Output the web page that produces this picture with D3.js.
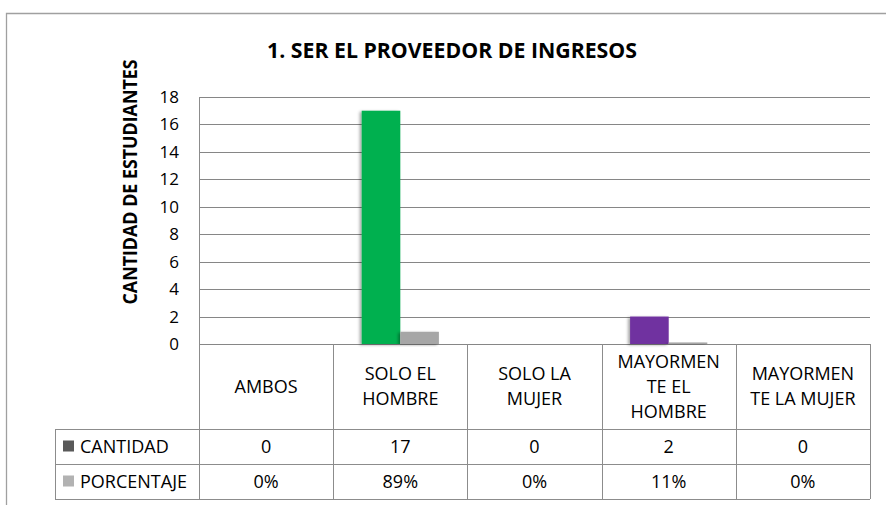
<!DOCTYPE html>
<html>
<head>
<meta charset="utf-8">
<script src="https://cdn.jsdelivr.net/npm/d3@7"></script>
<style>
  body { margin: 0; background: #fff; }
  svg { display: block; font-family: "Open Sans", "Noto Sans", sans-serif; }
</style>
</head>
<body>
<div id="chart"></div>
<script>
// data
const categories = ['AMBOS', 'SOLO EL HOMBRE', 'SOLO LA MUJER', 'MAYORMENTE EL HOMBRE', 'MAYORMENTE LA MUJER'];
const categoryLines = [
    ['AMBOS'],
    ['SOLO EL', 'HOMBRE'],
    ['SOLO LA', 'MUJER'],
    ['MAYORMEN', 'TE EL', 'HOMBRE'],
    ['MAYORMEN', 'TE LA MUJER']
];
const series = ['CANTIDAD', 'PORCENTAJE'];
const cantidad = [0, 17, 0, 2, 0];
const porcentaje = [0, 0.89, 0, 0.11, 0];
const porcentajeLabels = ['0%', '89%', '0%', '11%', '0%'];
const yTicks = [0, 2, 4, 6, 8, 10, 12, 14, 16, 18];

const cantidadColors = ['#4F81BD', '#00B050', '#C0504D', '#7030A0', '#F79646'];
const porcentajeColor = '#A6A6A6';
const legendColors = ['#595959', '#B2B2B2'];

const width = 886, height = 505;
const plot = { left: 199, right: 870, top: 97, bottom: 344 };
const rowH = 35;
const headerBottom = 429;

const svg = d3.select('#chart').append('svg')
    .attr('width', width)
    .attr('height', height);

const defs = svg.append('defs');
const shadow = defs.append('filter').attr('id', 'shadow')
    .attr('x', '-30%').attr('y', '-10%').attr('width', '160%').attr('height', '130%');
shadow.append('feDropShadow')
    .attr('dx', -2).attr('dy', 1).attr('stdDeviation', 1.6)
    .attr('flood-color', '#000').attr('flood-opacity', 0.35);

// outer frame
svg.append('path')
    .attr('d', `M6.5,${height} V13.5 H${width}`)
    .attr('fill', 'none')
    .attr('stroke', '#A0A0A0')
    .attr('stroke-width', 1.3);

// title
svg.append('text')
    .attr('x', 452).attr('y', 58)
    .attr('text-anchor', 'middle')
    .attr('font-size', 21)
    .attr('font-weight', 'bold')
    .attr('textLength', 370)
    .attr('lengthAdjust', 'spacingAndGlyphs')
    .attr('fill', '#000')
    .text('1. SER EL PROVEEDOR DE INGRESOS');

// y title
svg.append('text')
    .attr('transform', 'translate(137,182) rotate(-90)')
    .attr('text-anchor', 'middle')
    .attr('font-size', 19)
    .attr('font-weight', 'bold')
    .attr('textLength', 245)
    .attr('lengthAdjust', 'spacingAndGlyphs')
    .text('CANTIDAD DE ESTUDIANTES');

const x = d3.scaleBand()
    .domain(categories)
    .range([plot.left, plot.right])
    .padding(0);

const x1 = d3.scaleBand()
    .domain(series)
    .range([28.5, x.bandwidth() - 28.5])
    .padding(0);

const y = d3.scaleLinear()
    .domain([0, 18])
    .range([plot.bottom, plot.top]);

// gridlines
svg.append('g')
    .selectAll('line')
    .data(yTicks)
    .enter()
    .append('line')
    .attr('x1', plot.left).attr('x2', plot.right)
    .attr('y1', d => Math.round(y(d)) + 0.5)
    .attr('y2', d => Math.round(y(d)) + 0.5)
    .attr('stroke', '#868686')
    .attr('stroke-width', 1);

// y axis labels
const yAxis = svg.append('g')
    .attr('transform', `translate(${plot.left - 20},0)`)
    .call(d3.axisLeft(y).tickValues(yTicks).tickSize(0).tickPadding(0));
yAxis.select('.domain').remove();
yAxis.attr('font-family', null).attr('font-size', null);
yAxis.selectAll('text')
    .attr('font-size', 17)
    .attr('fill', '#000');

// bars
const groups = svg.append('g')
    .selectAll('g')
    .data(categories)
    .enter()
    .append('g')
    .attr('transform', d => `translate(${x(d)},0)`);

groups.filter((d, i) => cantidad[i] > 0)
    .append('rect')
    .attr('x', x1('CANTIDAD'))
    .attr('width', x1.bandwidth())
    .attr('y', d => y(cantidad[categories.indexOf(d)]))
    .attr('height', d => y(0) - y(cantidad[categories.indexOf(d)]))
    .attr('fill', d => cantidadColors[categories.indexOf(d)])
    .attr('filter', 'url(#shadow)');

groups.filter((d, i) => porcentaje[i] > 0)
    .append('rect')
    .attr('x', x1('PORCENTAJE'))
    .attr('width', x1.bandwidth())
    .attr('y', d => y(porcentaje[categories.indexOf(d)]))
    .attr('height', d => y(0) - y(porcentaje[categories.indexOf(d)]))
    .attr('fill', porcentajeColor)
    .attr('filter', 'url(#shadow)');

// data table
const table = svg.append('g')
    .attr('stroke', '#8C8C8C')
    .attr('stroke-width', 1)
    .attr('fill', 'none');

const bottom = headerBottom + rowH * 2;
const bounds = categories.map(c => x(c)).concat([plot.right]);

table.selectAll('line.v')
    .data(bounds)
    .enter()
    .append('line')
    .attr('x1', d => Math.round(d) + 0.5).attr('x2', d => Math.round(d) + 0.5)
    .attr('y1', (d, i) => i === 0 ? plot.top : plot.bottom)
    .attr('y2', bottom);

table.append('line')
    .attr('x1', 55.5).attr('x2', 55.5)
    .attr('y1', headerBottom).attr('y2', bottom);

table.selectAll('line.h')
    .data([headerBottom, headerBottom + rowH, bottom])
    .enter()
    .append('line')
    .attr('x1', 55).attr('x2', plot.right)
    .attr('y1', d => d + 0.5).attr('y2', d => d + 0.5);

// header labels
const header = svg.append('g')
    .attr('font-size', 18)
    .attr('text-anchor', 'middle')
    .attr('fill', '#000');

categories.forEach((c, i) => {
    const lines = categoryLines[i];
    const cy = (plot.bottom + headerBottom) / 2;
    const lh = 25;
    const t = header.append('text')
        .attr('x', x(c) + x.bandwidth() / 2);
    lines.forEach((ln, j) => {
        t.append('tspan')
            .attr('x', x(c) + x.bandwidth() / 2)
            .attr('y', cy + (j - (lines.length - 1) / 2) * lh)
            .attr('dy', '0.36em')
            .text(ln);
    });
});

// row values
const rows = [cantidad.map(String), porcentajeLabels];
rows.forEach((vals, r) => {
    const cy = headerBottom + rowH * r + rowH / 2;
    svg.append('g')
        .selectAll('text')
        .data(categories)
        .enter()
        .append('text')
        .attr('x', d => x(d) + x.bandwidth() / 2)
        .attr('y', cy)
        .attr('dy', '0.36em')
        .attr('text-anchor', 'middle')
        .attr('font-size', 18)
        .text((d, i) => vals[i]);

    svg.append('rect')
        .attr('x', 63).attr('y', cy - 6)
        .attr('width', 11).attr('height', 11)
        .attr('fill', legendColors[r]);

    svg.append('text')
        .attr('x', 80).attr('y', cy)
        .attr('dy', '0.36em')
        .attr('font-size', 18)
        .text(series[r]);
});
</script>
</body>
</html>
